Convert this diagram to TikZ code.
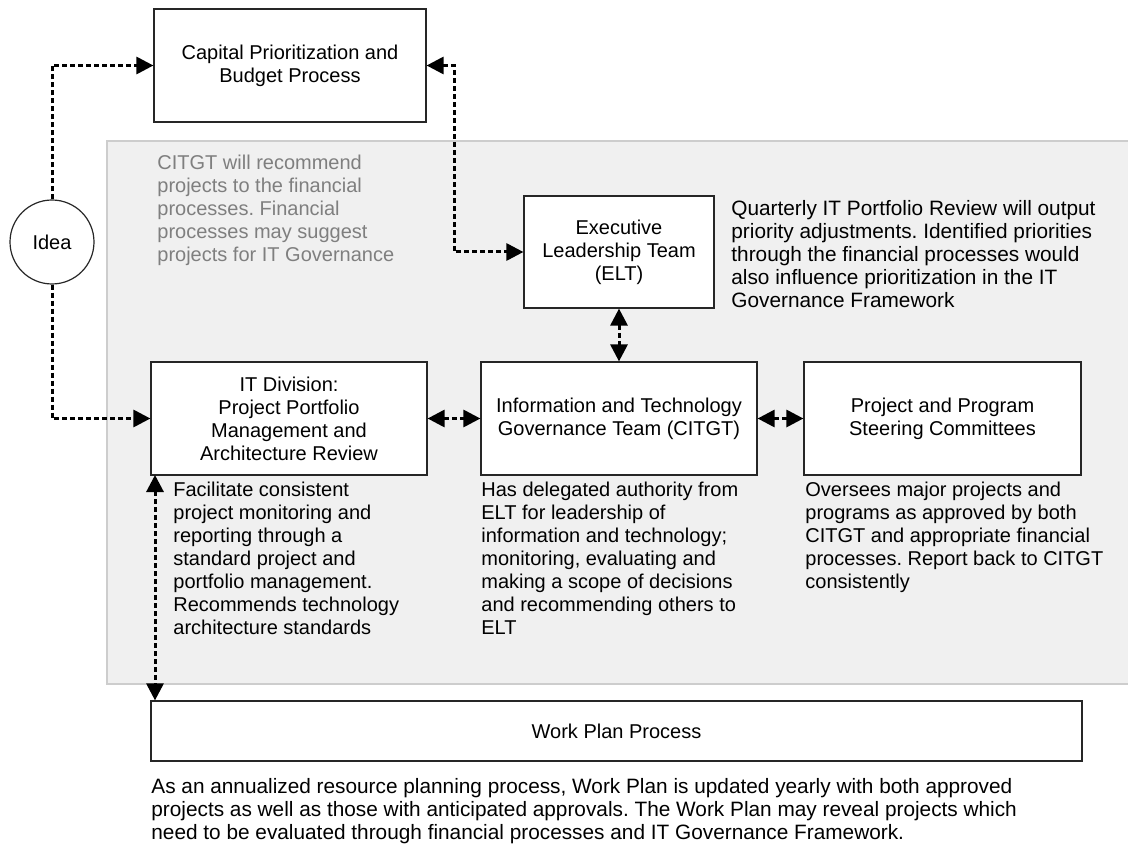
\documentclass[tikz,border=0pt]{standalone}
\usepackage{fontspec}
\setmainfont{Liberation Sans}
\usetikzlibrary{arrows.meta}
\frenchspacing

\definecolor{panelfill}{HTML}{F0F0F0}
\definecolor{panelline}{HTML}{CDCDCD}
\definecolor{notegray}{HTML}{7F7F7F}

\tikzset{
	proc/.style={draw=black!85, fill=white, line width=0.6pt, align=center, inner sep=2pt},
	note/.style={anchor=north west, align=left, inner sep=0pt},
	widenote/.style={note, font=\fontsize{10.4}{11.5}\selectfont},
	tip/.tip={Triangle[length=8.5pt,width=8.5pt]},
	link/.style={line width=1.5pt, dash pattern=on 2.5pt off 1.5pt, -tip},
	twoway/.style={link, tip-tip},
}

\begin{document}
\begin{tikzpicture}[x=0.5pt,y=-0.5pt,font=\fontsize{10}{11.5}\selectfont]
	\useasboundingbox (0,0) rectangle (1128,844);
	
	%PANEL
	\filldraw[fill=panelfill, draw=panelline, line width=0.6pt] (107,141) rectangle (1140,684);
	
	%BOXES
	\node[proc, circle, minimum size=42pt, inner sep=0pt] (idea) at (52,242) {Idea};
	\node[proc, minimum width=136pt, minimum height=56.5pt] (cap) at (290,65.5) {Capital Prioritization and\\Budget Process};
	\node[proc, minimum width=95pt, minimum height=56pt] (elt) at (619,252) {Executive\\Leadership Team\\(ELT)};
	\node[proc, minimum width=138pt, minimum height=56.5pt] (itd) at (289,418.5) {IT Division:\\Project Portfolio\\Management and\\Architecture Review};
	\node[proc, minimum width=138pt, minimum height=56.5pt] (citgt) at (619,418.5) {Information and Technology\\Governance Team (CITGT)};
	\node[proc, minimum width=138.5pt, minimum height=56.5pt] (steer) at (942.5,418.5) {Project and Program\\Steering Committees};
	\node[proc, minimum width=465.5pt, minimum height=30pt] (work) at (616.5,731) {Work Plan Process};
	
	%NOTES
	\node[note, text=notegray] (fin) at (157,155) {CITGT will recommend\\projects to the financial\\processes. Financial\\processes may suggest\\projects for IT Governance};
	\node[widenote] (qtr) at (731,200) {Quarterly IT Portfolio Review will output\\priority adjustments. Identified priorities\\through the financial processes would\\also influence prioritization in the IT\\Governance Framework};
	\node[note] (itdnote) at (173,482) {Facilitate consistent\\project monitoring and\\reporting through a\\standard project and\\portfolio management.\\Recommends technology\\architecture standards};
	\node[note] (citgtnote) at (481,482) {Has delegated authority from\\ELT for leadership of\\information and technology;\\monitoring, evaluating and\\making a scope of decisions\\and recommending others to\\ELT};
	\node[note] (steernote) at (805,482) {Oversees major projects and\\programs as approved by both\\CITGT and appropriate financial\\processes. Report back to CITGT\\consistently};
	\node[widenote] (worknote) at (151,778) {As an annualized resource planning process, Work Plan is updated yearly with both approved\\projects as well as those with anticipated approvals. The Work Plan may reveal projects which\\need to be evaluated through financial processes and IT Governance Framework.};
	
	%CONNECTORS
	\coordinate (bend) at (454,65.5);
	\coordinate (itdfoot) at (155,475);
	\draw[link] (idea.north) |- (cap.west);
	\draw[link] (idea.south) |- (itd.west);
	\draw[twoway] (cap.east) -- (bend) |- (elt.west);
	\draw[twoway] (elt.south) -- (citgt.north);
	\draw[twoway] (itd.east) -- (citgt.west);
	\draw[twoway] (citgt.east) -- (steer.west);
	\draw[twoway] (itdfoot) -- (itdfoot |- work.north);
\end{tikzpicture}
\end{document}
